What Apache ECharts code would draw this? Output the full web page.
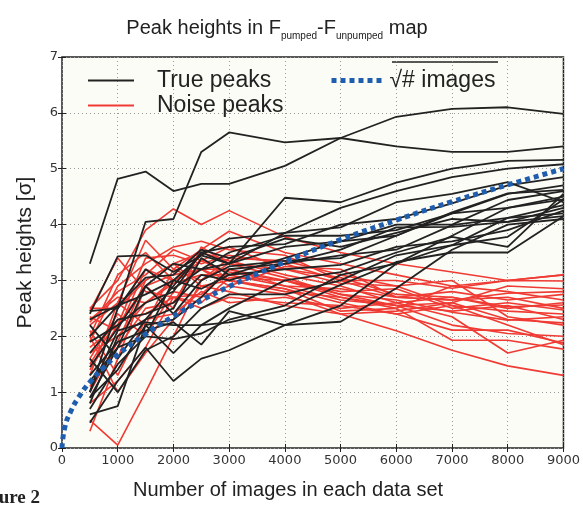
<!DOCTYPE html>
<html>
<head>
<meta charset="utf-8">
<script src="https://cdn.jsdelivr.net/npm/echarts@6/dist/echarts.min.js"></script>
<style>
  html, body { margin: 0; padding: 0; background: #ffffff; }
  #chart { width: 583px; height: 505px; }
</style>
</head>
<body>
<div id="chart"></div>
<script>
// x positions shared by all peak curves
var imageCounts = [500, 1000, 1500, 2000, 2500, 3000, 4000, 5000, 6000, 7000, 8000, 9000];

// true peaks (black)
var truePeaks = [
  [3.3, 4.82, 4.95, 4.6, 4.73, 4.73, 5.05, 5.55, 5.93, 6.07, 6.1, 5.98],
  [1.0, 2.5, 4.05, 4.1, 5.3, 5.65, 5.47, 5.55, 5.4, 5.3, 5.3, 5.4],
  [2.4, 3.43, 3.45, 3.15, 3.45, 3.3, 4.48, 4.4, 4.75, 5.0, 5.14, 5.16],
  [2.3, 2.55, 2.75, 3.0, 3.45, 3.75, 3.85, 4.3, 4.6, 4.85, 5.0, 5.08],
  [1.9, 2.2, 2.6, 2.8, 3.5, 3.3, 3.85, 3.95, 4.4, 4.55, 4.76, 4.4],
  [0.8, 2.0, 2.3, 2.9, 3.5, 3.6, 3.65, 4.0, 4.1, 4.38, 4.7, 4.85],
  [1.2, 1.8, 2.9, 3.3, 3.2, 3.5, 3.8, 3.8, 3.9, 4.2, 4.55, 4.7],
  [2.45, 2.5, 3.2, 2.85, 3.2, 3.3, 3.6, 3.7, 4.0, 4.0, 4.44, 4.6],
  [0.7, 1.5, 2.0, 3.0, 2.85, 3.1, 3.4, 3.7, 3.8, 4.2, 4.3, 4.5],
  [1.7, 2.3, 2.4, 2.6, 3.1, 3.0, 3.3, 3.55, 3.95, 3.96, 4.05, 4.3],
  [0.9, 1.4, 2.2, 2.3, 2.7, 3.2, 3.3, 3.45, 3.55, 3.99, 4.12, 4.2],
  [0.6, 0.75, 2.2, 1.7, 2.2, 2.5, 3.0, 3.15, 3.5, 3.78, 3.6, 4.55],
  [0.45, 1.2, 1.8, 1.2, 1.6, 1.75, 2.2, 2.55, 3.3, 3.63, 3.78, 4.45],
  [1.3, 1.9, 2.1, 2.25, 1.85, 2.45, 2.2, 2.26, 2.86, 3.55, 4.0, 4.1],
  [1.0, 2.1, 2.25, 2.2, 2.2, 2.25, 2.47, 2.92, 3.33, 3.5, 3.5, 4.15],
  [2.2, 1.6, 2.3, 2.5, 3.4, 3.1, 3.2, 3.28, 3.6, 3.7, 3.9, 4.25],
  [1.6, 1.0, 1.75, 2.0, 2.5, 2.75, 2.75, 3.0, 3.45, 3.63, 4.12, 4.35],
  [0.9, 1.8, 2.0, 1.95, 2.05, 2.3, 2.55, 3.1, 3.3, 3.8, 4.3, 4.45],
  [1.45, 2.15, 2.9, 2.4, 3.0, 3.25, 3.35, 3.4, 3.8, 4.22, 4.56, 4.62],
  [2.0, 2.55, 3.05, 3.1, 3.55, 3.4, 3.75, 3.6, 3.85, 4.1, 4.05, 4.15]
];

// noise peaks (red)
var noisePeaks = [
  [2.5, 3.0, 3.9, 4.28, 4.0, 4.25, 3.78, 3.5, 3.3, 3.15, 3.0, 3.1],
  [2.2, 2.6, 3.72, 3.2, 3.55, 3.88, 3.5, 3.3, 3.1, 2.9, 2.8, 2.65],
  [1.9, 2.9, 3.3, 3.6, 3.7, 3.55, 3.45, 3.0, 3.0, 2.86, 3.0, 2.99],
  [1.4, 2.2, 3.4, 3.45, 3.3, 3.45, 3.3, 3.0, 2.7, 2.65, 2.77, 2.8],
  [2.5, 2.5, 3.0, 3.3, 3.5, 3.35, 3.1, 2.9, 2.6, 2.7, 2.53, 2.56],
  [0.3, 1.6, 2.9, 3.1, 3.2, 3.2, 3.0, 2.8, 2.85, 2.5, 2.6, 2.47],
  [0.5, 0.05, 1.0, 2.0, 3.0, 3.3, 3.05, 2.75, 2.65, 2.43, 2.29, 2.35],
  [2.3, 2.7, 2.6, 2.95, 3.1, 3.1, 2.9, 2.65, 2.55, 2.6, 2.3, 2.24],
  [1.1, 1.8, 2.5, 2.6, 3.4, 3.0, 2.85, 2.6, 2.4, 2.11, 2.11, 1.88],
  [2.0, 1.0, 1.7, 2.3, 2.9, 3.0, 2.8, 2.7, 2.5, 1.93, 1.93, 1.77],
  [1.6, 2.4, 2.0, 2.8, 2.7, 2.9, 2.75, 2.4, 2.1, 1.75, 1.47, 1.3],
  [2.45, 3.4, 2.8, 2.7, 2.75, 3.2, 2.9, 2.85, 2.7, 2.65, 2.7, 2.5],
  [1.8, 2.2, 2.9, 2.5, 3.6, 3.3, 3.2, 3.05, 2.75, 2.7, 2.5, 2.6],
  [2.1, 1.3, 2.3, 2.4, 2.8, 2.6, 2.7, 2.5, 2.6, 2.35, 1.7, 1.93],
  [1.0, 1.9, 3.0, 3.3, 2.9, 2.8, 2.55, 2.4, 2.45, 2.6, 2.9, 2.85],
  [2.25, 2.8, 3.1, 3.55, 3.35, 3.6, 3.2, 2.95, 2.9, 3.0, 2.35, 2.2],
  [1.7, 2.0, 2.6, 3.0, 3.2, 2.9, 3.25, 3.2, 2.7, 2.8, 2.65, 2.75],
  [0.8, 1.2, 1.8, 2.7, 2.5, 2.7, 2.6, 2.55, 2.4, 2.55, 2.45, 2.4],
  [2.35, 2.1, 3.2, 3.0, 3.35, 3.15, 3.0, 2.75, 2.55, 2.2, 2.05, 2.0],
  [1.3, 2.6, 2.2, 3.2, 3.0, 3.4, 3.35, 3.1, 2.9, 2.55, 2.2, 1.85],
  [2.0, 3.1, 3.5, 3.0, 3.2, 3.0, 2.85, 2.45, 2.5, 2.9, 3.0, 3.1],
  [1.5, 2.3, 2.4, 2.7, 2.6, 3.05, 3.0, 2.7, 2.55, 2.45, 2.55, 2.3]
];

// sqrt(# images) reference curve
var sqrtX = [0, 50, 150, 300, 500, 750, 1000, 1500, 2000, 2500, 3000, 4000, 5000, 6000, 7000, 8000, 9000];
var sqrtY = [0, 0.37, 0.64, 0.91, 1.18, 1.44, 1.67, 2.04, 2.36, 2.64, 2.89, 3.33, 3.73, 4.08, 4.41, 4.71, 5.0];

var xTicks = [0, 1000, 2000, 3000, 4000, 5000, 6000, 7000, 8000, 9000];
var yTicks = [0, 1, 2, 3, 4, 5, 6, 7];

var SANS = 'Liberation Sans';
var TICKFONT = 'DejaVu Sans';

function pairs(xs, ys) {
  var out = [];
  for (var i = 0; i < ys.length; i++) out.push([xs[i], ys[i]]);
  return out;
}

var series = [];
noisePeaks.forEach(function (row) {
  series.push({
    name: 'Noise peaks', type: 'line', data: pairs(imageCounts, row),
    symbol: 'none', silent: true,
    lineStyle: { color: '#ef3b34', width: 1.6 },
    itemStyle: { color: '#ef3b34' }
  });
});
truePeaks.forEach(function (row) {
  series.push({
    name: 'True peaks', type: 'line', data: pairs(imageCounts, row),
    symbol: 'none', silent: true,
    lineStyle: { color: '#222222', width: 1.8 },
    itemStyle: { color: '#222222' }
  });
});
series.push({
  name: '√# images', type: 'line', data: pairs(sqrtX, sqrtY),
  symbol: 'none', smooth: true, silent: true, z: 5,
  lineStyle: { color: '#1f5eae', width: 5, type: [5, 4] },
  itemStyle: { color: '#1f5eae' }
});

var chart = echarts.init(document.getElementById('chart'));
var option = {
  animation: false,
  backgroundColor: '#ffffff',
  textStyle: { fontFamily: SANS },
  title: {
    text: '{a|Peak heights in F}{s|pumped}{a|-F}{s|unpumped}{a| map}',
    left: 272, top: 13, textAlign: 'center',
    textStyle: {
      fontWeight: 'normal',
      rich: {
        a: { fontFamily: SANS, fontSize: 20, fontWeight: 'normal', color: '#222', lineHeight: 25, verticalAlign: 'top' },
        s: { fontFamily: SANS, fontSize: 10, fontWeight: 'normal', color: '#222', lineHeight: 11, verticalAlign: 'top', padding: [13, 0, 0, 0] }
      }
    }
  },
  grid: {
    left: 62, right: 17, top: 57, bottom: 57,
    show: true, backgroundColor: '#fcfcf6', borderColor: '#222', borderWidth: 1.5
  },
  legend: [{
    data: ['True peaks', 'Noise peaks'],
    orient: 'vertical', left: 82, top: 64,
    itemWidth: 46, itemHeight: 14, itemGap: 2,
    selectedMode: false,
    itemStyle: { opacity: 0 },
    textStyle: { fontFamily: SANS, fontSize: 23, color: '#222', padding: [0, 0, 0, 18] }
  }, {
    data: [{ name: '√# images', lineStyle: { width: 5, type: [5, 4], color: '#1f5eae' } }],
    left: 324, top: 64,
    itemWidth: 50, itemHeight: 14,
    selectedMode: false,
    itemStyle: { opacity: 0 },
    textStyle: { fontFamily: SANS, fontSize: 23, color: '#222', padding: [0, 0, 0, 3] }
  }],
  xAxis: [{
    type: 'value', min: 0, max: 9000, interval: 1000,
    axisLine: { show: false },
    axisTick: { inside: true, length: 4, lineStyle: { color: '#222' } },
    axisLabel: { fontFamily: TICKFONT, fontSize: 13, color: '#333', margin: 6,
      customValues: xTicks, formatter: function (v) { return String(v); } },
    splitLine: { show: true, lineStyle: { color: '#9a9a9a', type: [1, 3], width: 1 } }
  }, {
    type: 'value', min: 0, max: 9000, interval: 1000, position: 'top',
    axisLine: { show: false }, axisLabel: { show: false }, splitLine: { show: false },
    axisTick: { inside: true, length: 4, lineStyle: { color: '#222' } }
  }],
  yAxis: [{
    type: 'value', min: 0, max: 7, interval: 1,
    name: 'Peak heights [σ]', nameLocation: 'middle', nameGap: 26,
    nameTextStyle: { fontFamily: SANS, fontSize: 21, color: '#222' },
    axisLine: { show: false },
    axisTick: { inside: true, length: 4, lineStyle: { color: '#222' } },
    axisLabel: { fontFamily: TICKFONT, fontSize: 13, color: '#333', margin: 4,
      customValues: yTicks },
    splitLine: { show: true, lineStyle: { color: '#9a9a9a', type: [1, 3], width: 1 } }
  }, {
    type: 'value', min: 0, max: 7, interval: 1, position: 'right',
    axisLine: { show: false }, axisLabel: { show: false }, splitLine: { show: false },
    axisTick: { inside: true, length: 4, lineStyle: { color: '#222' } }
  }],
  graphic: [{
    type: 'text', left: 133, top: 480,
    style: { text: 'Number of images in each data set', font: '20px "Liberation Sans"', fill: '#222' }
  }, {
    type: 'text', right: 543, top: 489,
    style: { text: 'Figure 2', font: 'bold 19px "Liberation Serif"', fill: '#222' }
  }, {
    type: 'line', shape: { x1: 392, y1: 62, x2: 498, y2: 62 },
    style: { stroke: '#222', lineWidth: 1.3 }
  }],
  series: series
};
chart.setOption(option);
</script>
</body>
</html>
